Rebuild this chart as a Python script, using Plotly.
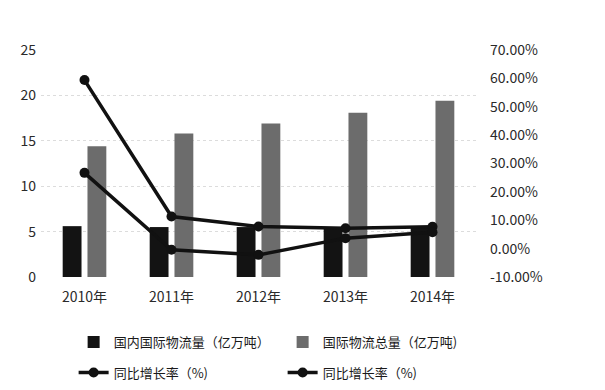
import plotly.graph_objects as go

years = ["2010年", "2011年", "2012年", "2013年", "2014年"]
domestic_intl = [5.6, 5.5, 5.5, 5.3, 5.6]
intl_total = [14.4, 15.8, 16.9, 18.1, 19.4]
growth_a = [59.4, 11.3, 7.8, 7.2, 7.7]
growth_b = [26.7, -0.4, -2.2, 3.7, 5.8]

left_ticks = [0, 5, 10, 15, 20, 25]
right_tickvals = [-10, 0, 10, 20, 30, 40, 50, 60, 70]
right_ticktext = ["-10.00%", "0.00%", "10.00%", "20.00%", "30.00%", "40.00%", "50.00%", "60.00%", "70.00%"]

fig = go.Figure()
fig.add_trace(go.Bar(x=years, y=domestic_intl, name="国内国际物流量（亿万吨）",
                     marker=dict(color="#131313", line=dict(width=0)), legend="legend"))
fig.add_trace(go.Bar(x=years, y=intl_total, name="国际物流总量（亿万吨)",
                     marker=dict(color="#6c6c6c", line=dict(width=0)), legend="legend"))
fig.add_trace(go.Scatter(x=years, y=growth_a, name="同比增长率（%)", yaxis="y2",
                         mode="lines+markers", line=dict(color="#111", width=3.5),
                         marker=dict(color="#111", size=10), legend="legend2"))
fig.add_trace(go.Scatter(x=years, y=growth_b, name="同比增长率（%)", yaxis="y2",
                         mode="lines+markers", line=dict(color="#111", width=3.5),
                         marker=dict(color="#111", size=10), legend="legend2"))

font_family = "Noto Sans CJK SC, Noto Sans, sans-serif"
legend_common = dict(orientation="h", xanchor="left", yanchor="top",
                     entrywidth=164, entrywidthmode="pixels",
                     font=dict(size=13, color="#1a1a1a", family=font_family),
                     traceorder="normal", itemwidth=30, bgcolor="rgba(0,0,0,0)")
fig.update_layout(
    width=605, height=390,
    margin=dict(l=41, r=129, t=50, b=113, autoexpand=False),
    paper_bgcolor="white", plot_bgcolor="white",
    font=dict(family=font_family, color="#2a2a2a", size=14),
    barmode="group", bargap=0.43, bargroupgap=0.24,
    showlegend=True,
    legend=dict(x=0.075, y=-0.22, **legend_common),
    legend2=dict(x=0.075, y=-0.355, **legend_common),
    xaxis=dict(type="category", showgrid=False, showline=False, ticks="",
               tickfont=dict(size=14), zeroline=False, automargin=False,
               ticklabelstandoff=10),
    yaxis=dict(range=[0, 25], tickvals=left_ticks, showgrid=True,
               gridcolor="#dcdcdc", griddash="dot", gridwidth=1,
               zeroline=False, showline=False, ticks="", tickfont=dict(size=14),
               ticklabelstandoff=4, automargin=False),
    yaxis2=dict(range=[-10, 70], overlaying="y", side="right",
                tickvals=right_tickvals, ticktext=right_ticktext,
                showgrid=False, zeroline=False, showline=False, ticks="",
                tickfont=dict(size=14), ticklabelstandoff=13, automargin=False),
)
fig.write_html("out.html", config={"displayModeBar": False},
               post_script="document.body.style.margin='0';")
